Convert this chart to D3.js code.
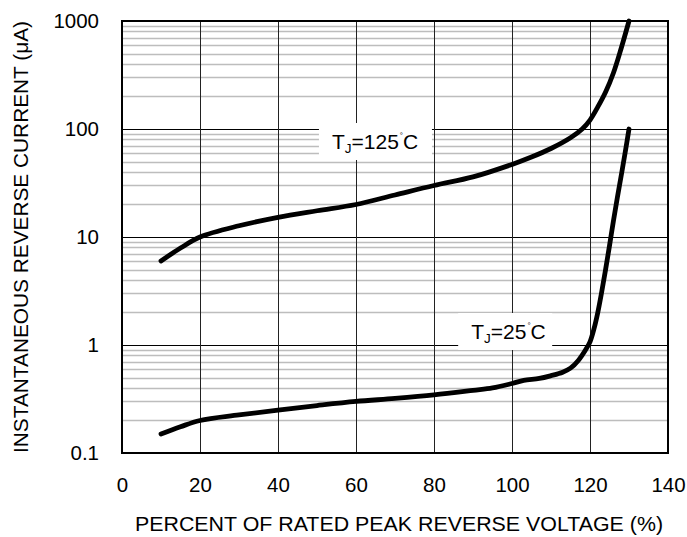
<!DOCTYPE html>
<html>
<head>
<meta charset="utf-8">
<script src="https://cdn.jsdelivr.net/npm/d3@7"></script>
<style>
  html, body { margin: 0; padding: 0; background: #fff; }
  svg { display: block; }
  text { font-family: "Liberation Sans", Arial, sans-serif; fill: #000; }
</style>
</head>
<body>
<div id="chart"></div>
<script>
// ---- data ----
const xTicks = [0, 20, 40, 60, 80, 100, 120, 140];
const yTicks = [0.1, 1, 10, 100, 1000];
const yTickLabels = ["0.1", "1", "10", "100", "1000"];

const x125 = [10, 15, 20, 30, 40, 50, 60, 70, 80, 90, 100, 105, 110, 115, 118, 120, 122, 124, 126, 128, 130];
const y125 = [6, 7.9, 10, 12.7, 15.2, 17.5, 20, 24.5, 30, 36, 47, 55, 66, 83, 100, 121, 160, 220, 330, 560, 1000];

const x25 = [10, 15, 20, 30, 40, 50, 60, 70, 80, 90, 95, 100, 103, 107, 110, 113, 115, 117, 119, 120, 121, 122, 123, 124, 125, 126, 127, 128, 129, 130];
const y25 = [0.15, 0.175, 0.2, 0.225, 0.25, 0.275, 0.30, 0.32, 0.345, 0.38, 0.40, 0.44, 0.47, 0.49, 0.52, 0.56, 0.61, 0.72, 0.92, 1.07, 1.4, 2.0, 3.1, 5, 8.3, 14, 23, 37, 60, 100];

const xTitle = "PERCENT OF RATED PEAK REVERSE VOLTAGE (%)";
const yTitle = "INSTANTANEOUS REVERSE CURRENT (\u03BCA)";

// ---- layout ----
const W = 687, H = 537;
const m = { left: 122, top: 21, right: 19, bottom: 84 };
const pw = W - m.left - m.right, ph = H - m.top - m.bottom;
const FS = 20.5;

const svg = d3.select("#chart").append("svg").attr("width", W).attr("height", H);
const g = svg.append("g").attr("transform", `translate(${m.left},${m.top})`);

const x = d3.scaleLinear().domain([0, 140]).range([0, pw]);
const y = d3.scaleLog().domain([0.1, 1000]).range([ph, 0]);

// minor horizontal grid
const minors = [];
for (let d = 0.1; d < 1000; d *= 10) for (let k = 2; k <= 9; k++) minors.push(d * k);
g.append("g").selectAll("line").data(minors).join("line")
  .attr("x1", 0).attr("x2", pw)
  .attr("y1", d => Math.round(y(d)) + 0.5).attr("y2", d => Math.round(y(d)) + 0.5)
  .attr("stroke", "#bdbdbd").attr("stroke-width", 1.3);

// major horizontal grid
g.append("g").selectAll("line").data(yTicks).join("line")
  .attr("x1", 0).attr("x2", pw)
  .attr("y1", d => Math.round(y(d)) + 0.5).attr("y2", d => Math.round(y(d)) + 0.5)
  .attr("stroke", "#000").attr("stroke-width", 1);

// vertical grid
g.append("g").selectAll("line").data(xTicks).join("line")
  .attr("y1", 0).attr("y2", ph)
  .attr("x1", d => Math.round(x(d)) + 0.5).attr("x2", d => Math.round(x(d)) + 0.5)
  .attr("stroke", "#222").attr("stroke-width", 1);

// curves
const line = d3.line().x(d => x(d[0])).y(d => y(d[1])).curve(d3.curveCatmullRom.alpha(0.5));
const s125 = x125.map((v, i) => [v, y125[i]]);
const s25 = x25.map((v, i) => [v, y25[i]]);
[s125, s25].forEach(s => {
  g.append("path").datum(s).attr("d", line)
    .attr("fill", "none").attr("stroke", "#000").attr("stroke-width", 4.8)
    .attr("stroke-linecap", "round").attr("stroke-linejoin", "round");
});

// labels with white boxes
function label(bx, by, bw, bh, num) {
  g.append("rect").attr("x", bx).attr("y", by).attr("width", bw).attr("height", bh).attr("fill", "#fff");
  const t = g.append("text").attr("x", bx + 13).attr("y", by + 26).attr("font-size", 21);
  t.append("tspan").text("T");
  t.append("tspan").attr("font-size", 13.5).attr("dy", 4).text("J");
  t.append("tspan").attr("dy", -4).text("=" + num);
  t.append("tspan").attr("font-size", 8).attr("dy", -11).attr("dx", 1).text("\u00B0");
  t.append("tspan").attr("dy", 11).text("C");
}
label(x(50.5), 123 - m.top, 113, 37, "125");
label(x(86.2), 313 - m.top, 94, 37, "25");

// border
g.append("rect").attr("x", 0).attr("y", 0).attr("width", pw).attr("height", ph)
  .attr("fill", "none").attr("stroke", "#000").attr("stroke-width", 2);

// x tick labels
g.append("g").attr("transform", `translate(0,${ph})`)
  .call(d3.axisBottom(x).tickValues(xTicks).tickSize(0).tickPadding(24).tickFormat(d3.format("d")))
  .call(a => a.select(".domain").remove())
  .selectAll("text").attr("font-size", FS).attr("font-family", "Liberation Sans, Arial, sans-serif").attr("fill", "#000");

// y tick labels
g.append("g")
  .call(d3.axisLeft(y).tickValues(yTicks).tickSize(0).tickPadding(23).tickFormat((d, i) => yTickLabels[i]))
  .call(a => a.select(".domain").remove())
  .selectAll("text").attr("font-size", FS).attr("font-family", "Liberation Sans, Arial, sans-serif").attr("fill", "#000");

// axis titles
svg.append("text").attr("x", 399).attr("y", 531)
  .attr("text-anchor", "middle").attr("font-size", FS)
  .attr("textLength", 528).attr("lengthAdjust", "spacingAndGlyphs").text(xTitle);
svg.append("text").attr("transform", `translate(28,${m.top + ph / 2}) rotate(-90)`)
  .attr("text-anchor", "middle").attr("font-size", FS)
  .attr("textLength", 432).attr("lengthAdjust", "spacingAndGlyphs").text(yTitle);
</script>
</body>
</html>
